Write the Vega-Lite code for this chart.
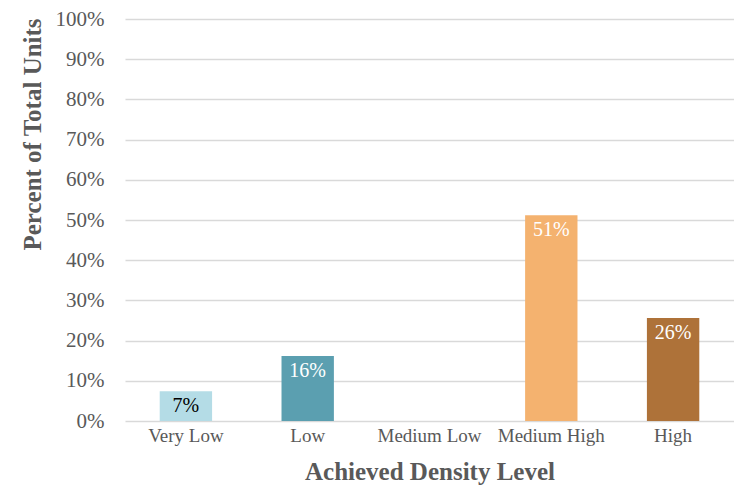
{
  "$schema": "https://vega.github.io/schema/vega-lite/v6.json",
  "autosize": {"type": "none"},
  "padding": {"left": 125, "top": 19, "right": 0, "bottom": 64},
  "width": 609,
  "height": 402,
  "background": "white",
  "config": {
    "view": {"stroke": null},
    "font": "Liberation Serif"
  },
  "data": {
    "values": [
      {"level": "Very Low", "pct": 0.074},
      {"level": "Low", "pct": 0.162},
      {"level": "Medium Low", "pct": 0},
      {"level": "Medium High", "pct": 0.512},
      {"level": "High", "pct": 0.256}
    ]
  },
  "encoding": {
    "x": {
      "field": "level", "type": "nominal", "sort": null,
      "scale": {"paddingInner": 0.57, "paddingOuter": 0.285},
      "axis": {
        "title": "Achieved Density Level", "titleFont": "Liberation Serif", "titleFontSize": 25, "titleFontWeight": "bold", "titleColor": "#595959", "titlePadding": 14,
        "labelAngle": 0, "labelFontSize": 19, "labelColor": "#595959", "labelPadding": 5,
        "ticks": false, "domain": false, "grid": false
      }
    },
    "y": {
      "field": "pct", "type": "quantitative",
      "scale": {"domain": [0, 1]},
      "axis": {
        "title": "Percent of Total Units", "titleFont": "Liberation Serif", "titleFontSize": 25, "titleFontWeight": "bold", "titleColor": "#595959", "titlePadding": 10,
        "titleY": 115, "titleAlign": "center",
        "format": ".0%", "values": [0,0.1,0.2,0.3,0.4,0.5,0.6,0.7,0.8,0.9,1], "labelOverlap": false,
        "labelFontSize": 21, "labelColor": "#595959", "labelPadding": 21,
        "ticks": false, "domain": false, "grid": true, "gridColor": "#d9d9d9", "gridWidth": 1.5
      }
    }
  },
  "layer": [
    {
      "mark": {"type": "bar"},
      "encoding": {
        "color": {
          "field": "level", "type": "nominal", "legend": null,
          "scale": {
            "domain": ["Very Low", "Low", "Medium Low", "Medium High", "High"],
            "range": ["#b4dce6", "#5b9fb0", "#8a8a8a", "#f4b26f", "#ae7239"]
          }
        }
      }
    },
    {
      "transform": [{"filter": "datum.pct > 0"}],
      "mark": {"type": "text", "baseline": "top", "dy": 5, "fontSize": 20},
      "encoding": {
        "text": {"field": "pct", "type": "quantitative", "format": ".0%"},
        "color": {
          "condition": {"test": "datum.level == 'Very Low'", "value": "#000000"},
          "value": "#ffffff"
        }
      }
    }
  ]
}
